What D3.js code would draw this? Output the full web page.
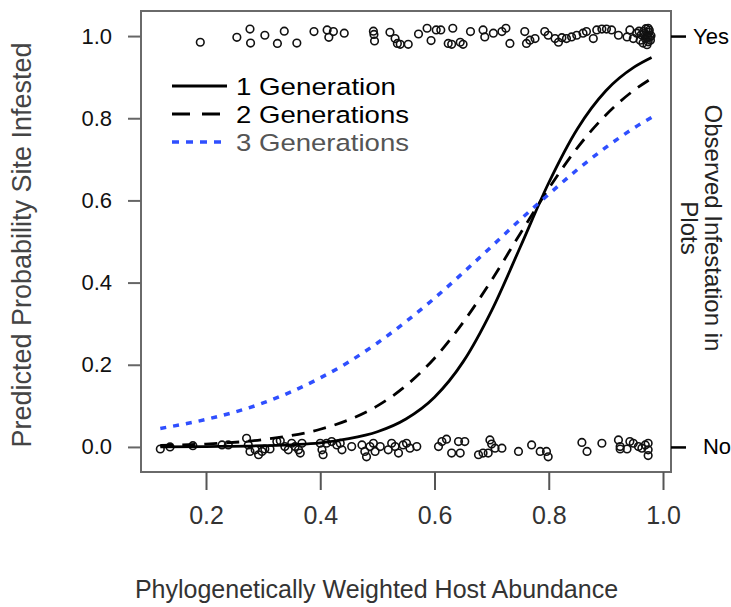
<!DOCTYPE html>
<html lang="en">
<head>
<meta charset="utf-8">
<title>Predicted probability of infestation</title>
<script src="https://cdn.jsdelivr.net/npm/d3@7"></script>
<style>
  body { margin: 0; background: #fff; }
  svg text { font-family: "Liberation Sans", Arial, Helvetica, sans-serif; }
</style>
</head>
<body>
<script>

// model curves
var xGrid = [0.12, 0.2, 0.3, 0.4, 0.45, 0.5, 0.55, 0.6, 0.65, 0.7, 0.75, 0.8, 0.85, 0.9, 0.95, 0.98];
var gen1  = [0.000, 0.001, 0.003, 0.010, 0.020, 0.037, 0.068, 0.121, 0.207, 0.332, 0.486, 0.643, 0.774, 0.867, 0.925, 0.948];
var gen2  = [0.004, 0.007, 0.018, 0.043, 0.066, 0.100, 0.149, 0.216, 0.303, 0.406, 0.519, 0.629, 0.728, 0.808, 0.869, 0.897];
var gen3  = [0.045, 0.067, 0.107, 0.168, 0.207, 0.253, 0.305, 0.362, 0.424, 0.488, 0.553, 0.615, 0.675, 0.729, 0.777, 0.802];
var legendLabels = ["1 Generation", "2 Generations", "3 Generations"];

// observed plots (jittered around 1 = infested, 0 = not)
var yesX = [0.190, 0.254, 0.277, 0.278, 0.303, 0.325, 0.337, 0.359, 0.389, 0.412, 0.415, 0.423, 0.442,
            0.493, 0.494, 0.495, 0.522, 0.531, 0.535, 0.540, 0.554, 0.572, 0.587, 0.594, 0.603,
            0.611, 0.632, 0.624, 0.630, 0.645, 0.650, 0.663, 0.685, 0.688, 0.703, 0.718, 0.725,
            0.732, 0.758, 0.761, 0.767, 0.776, 0.793, 0.799, 0.811, 0.817, 0.823, 0.831, 0.840,
            0.849, 0.860, 0.866, 0.878, 0.884, 0.893, 0.901, 0.910, 0.922, 0.937, 0.942, 0.948,
            0.954, 0.960, 0.966, 0.972, 0.974, 0.974, 0.977, 0.969, 0.965, 0.970, 0.975, 0.978,
            0.962, 0.958, 0.972, 0.976, 0.967, 0.979, 0.974];
var yesY = [0.985, 0.997, 1.017, 0.983, 1.002, 0.982, 1.012, 0.983, 1.011, 1.015, 0.997, 1.011, 1.007,
            1.012, 1.004, 0.988, 1.009, 0.994, 0.982, 0.980, 0.980, 1.005, 1.019, 0.989, 1.015,
            1.015, 1.019, 0.982, 0.980, 0.985, 0.980, 1.011, 1.015, 0.998, 1.007, 1.011, 1.019,
            0.982, 1.011, 0.982, 0.990, 0.994, 1.011, 1.002, 0.994, 0.985, 0.996, 0.994, 0.998,
            1.002, 1.007, 1.011, 0.994, 1.015, 1.017, 1.017, 1.015, 1.002, 0.998, 1.015, 0.994,
            1.007, 0.990, 1.011, 1.002, 1.019, 0.986, 0.998, 0.994, 0.983, 1.018, 1.009, 0.990,
            1.003, 1.012, 0.979, 1.014, 1.006, 1.001, 0.995];

var noX = [0.120, 0.137, 0.177, 0.228, 0.239, 0.271, 0.274, 0.277, 0.286, 0.292, 0.298, 0.303, 0.312,
           0.324, 0.330, 0.338, 0.344, 0.350, 0.356, 0.362, 0.365, 0.368, 0.400, 0.403, 0.405,
           0.411, 0.420, 0.429, 0.435, 0.438, 0.455, 0.473, 0.478, 0.481, 0.487, 0.493, 0.496,
           0.505, 0.519, 0.525, 0.531, 0.537, 0.545, 0.551, 0.557, 0.569, 0.607,
           0.613, 0.621, 0.630, 0.642, 0.645, 0.653, 0.677, 0.685, 0.694, 0.697, 0.700, 0.706,
           0.718, 0.747, 0.770, 0.785, 0.796, 0.799, 0.858, 0.867, 0.893, 0.922, 0.925, 0.925,
           0.937, 0.942, 0.948, 0.957, 0.963, 0.974, 0.974, 0.974, 0.969];
var noY = [-0.005, 0.000, 0.003, 0.005, 0.005, 0.021, 0.005, -0.011, -0.007, -0.019, -0.011, -0.005, -0.005,
           0.013, 0.015, 0.001, -0.007, 0.009, 0.001, -0.007, -0.015, 0.009, 0.009, -0.007, -0.019,
           0.009, 0.013, 0.005, 0.009, -0.007, 0.001, 0.005, -0.011, -0.024, 0.001, 0.009, -0.011,
           0.001, -0.007, 0.009, 0.001, -0.015, 0.005, 0.009, -0.003, 0.001, 0.001,
           0.013, 0.019, -0.015, 0.013, -0.015, 0.013, -0.019, -0.015, -0.015, 0.017, 0.007, -0.003,
           -0.003, -0.011, 0.005, -0.011, -0.011, -0.024, 0.011, -0.011, 0.009, 0.017, 0.001, -0.005,
           -0.005, 0.013, 0.009, 0.001, -0.003, 0.009, -0.007, -0.021, 0.005];

var xTicks = [0.2, 0.4, 0.6, 0.8, 1.0];
var yTicks = [0.0, 0.2, 0.4, 0.6, 0.8, 1.0];
var obsLabels = ["No", "Yes"];

var w = 731, h = 607;
var plotL = 141, plotR = 671, plotT = 11, plotB = 472;

var x = d3.scaleLinear().domain([0.0862, 1.014]).range([plotL, plotR]);
var y = d3.scaleLinear().domain([-0.061, 1.061]).range([plotB, plotT]);

var svg = d3.select("body").append("svg")
    .attr("width", w)
    .attr("height", h);

// frame
svg.append("rect")
    .attr("x", plotL).attr("y", plotT)
    .attr("width", plotR - plotL).attr("height", plotB - plotT)
    .attr("fill", "none")
    .attr("stroke", "#6a6a6a")
    .attr("stroke-width", 2);

// bottom axis
var xAxis = svg.append("g")
    .attr("transform", "translate(0," + plotB + ")")
    .call(d3.axisBottom(x).tickValues(xTicks).tickSize(18).tickPadding(16).tickFormat(d3.format(".1f")));
xAxis.select(".domain").remove();
xAxis.selectAll("line").attr("stroke", "#555").attr("stroke-width", 2);
xAxis.selectAll("text").attr("font-size", 25).attr("fill", "#333");

// left axis
var yAxis = svg.append("g")
    .attr("transform", "translate(" + plotL + ",0)")
    .call(d3.axisLeft(y).tickValues(yTicks).tickSize(13).tickPadding(16).tickFormat(d3.format(".1f")));
yAxis.select(".domain").remove();
yAxis.selectAll("line").attr("stroke", "#666").attr("stroke-width", 2);
yAxis.selectAll("text").attr("font-size", 22).attr("fill", "#111");

// right axis: observed yes / no
var obsScale = d3.scalePoint().domain(obsLabels).range([y(0), y(1)]);
var rAxis = svg.append("g")
    .attr("transform", "translate(" + plotR + ",0)")
    .call(d3.axisRight(obsScale).tickSize(15).tickPadding(6));
rAxis.select(".domain").remove();
rAxis.selectAll("line").attr("stroke", "#000").attr("stroke-width", 2.5);
rAxis.selectAll("text")
    .attr("font-size", 22).attr("fill", "#000")
    .attr("text-anchor", "middle")
    .attr("x", function(d) { return d == "No" ? 46 : 40; });

// axis titles
svg.append("text")
    .attr("x", (133 + 620) / 2).attr("y", 598)
    .attr("text-anchor", "middle")
    .attr("font-size", 25).attr("fill", "#333")
    .text("Phylogenetically Weighted Host Abundance");

svg.append("text")
    .attr("transform", "translate(31,245) rotate(-90)")
    .attr("text-anchor", "middle")
    .attr("font-size", 27).attr("fill", "#444")
    .text("Predicted Probability Site Infested");

var rTitle = svg.append("text")
    .attr("transform", "translate(705,228) rotate(90)")
    .attr("text-anchor", "middle")
    .attr("font-size", 24).attr("fill", "#222");
rTitle.append("tspan").attr("x", 0).attr("y", 0).text("Observed Infestation in");
rTitle.append("tspan").attr("x", 0).attr("y", 24).text("Plots");

// observed points
var obs = [];
yesX.forEach(function(v, i) { obs.push([v, yesY[i]]); });
noX.forEach(function(v, i) { obs.push([v, noY[i]]); });

svg.append("g").selectAll("circle")
    .data(obs)
    .enter()
    .append("circle")
    .attr("cx", function(d) { return x(d[0]); })
    .attr("cy", function(d) { return y(d[1]); })
    .attr("r", 3.8)
    .attr("fill", "none")
    .attr("stroke", "#111")
    .attr("stroke-width", 1.6);

// curves
var series = [
  { vals: gen1, color: "#000", width: 2.8, dash: null },
  { vals: gen2, color: "#000", width: 2.8, dash: "13,9" },
  { vals: gen3, color: "#2f4fff", width: 3.5, dash: "6,7" }
];

var line = d3.line()
    .x(function(d) { return x(d[0]); })
    .y(function(d) { return y(d[1]); })
    .curve(d3.curveMonotoneX);

series.forEach(function(s) {
  svg.append("path")
      .datum(xGrid.map(function(v, i) { return [v, s.vals[i]]; }))
      .attr("d", line)
      .attr("fill", "none")
      .attr("stroke", s.color)
      .attr("stroke-width", s.width)
      .attr("stroke-dasharray", s.dash);
});

// legend (text is a little wider than tall in the original, so stretch it)
var legend = svg.append("g");
var legendDash = [null, "18,12", "7,7"];
var legendText = ["#000", "#000", "#555"];
var legendWidth = [160, 173, 173];
legendLabels.forEach(function(lab, i) {
  var ly = 86 + i * 28;
  legend.append("line")
      .attr("x1", 172).attr("x2", 227)
      .attr("y1", ly).attr("y2", ly)
      .attr("stroke", series[i].color)
      .attr("stroke-width", i == 2 ? 3.5 : 3)
      .attr("stroke-dasharray", legendDash[i]);
  legend.append("text")
      .attr("x", 236).attr("y", ly + 9)
      .attr("font-size", 24.5)
      .attr("textLength", legendWidth[i])
      .attr("lengthAdjust", "spacingAndGlyphs")
      .attr("fill", legendText[i])
      .text(lab);
});

</script>
</body>
</html>
